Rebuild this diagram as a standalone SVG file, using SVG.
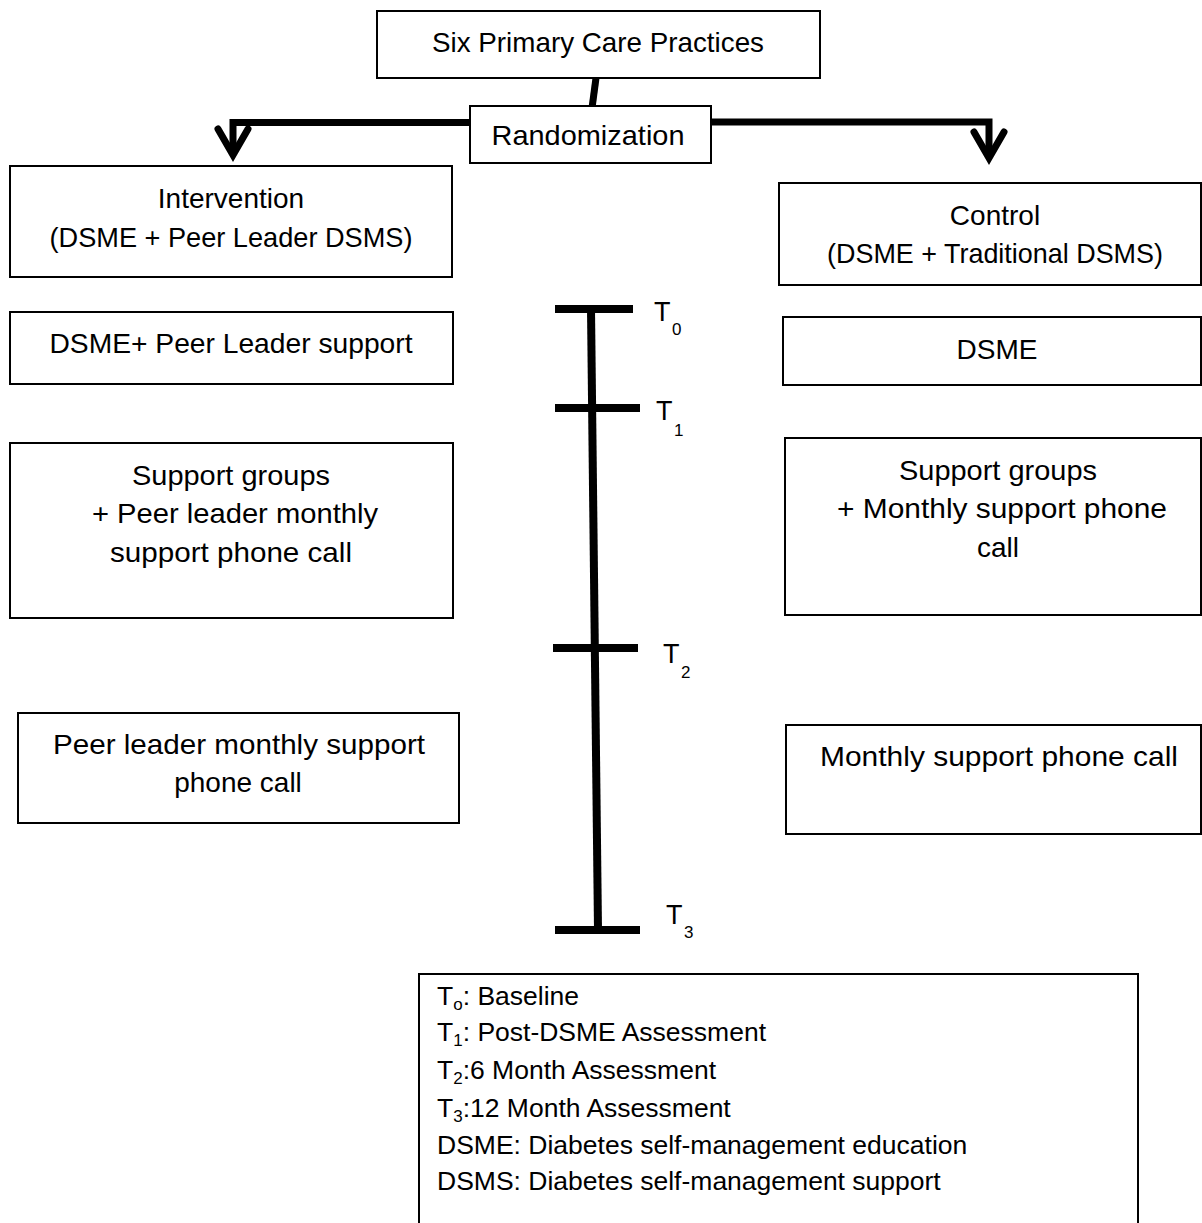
<svg xmlns="http://www.w3.org/2000/svg" width="1202" height="1223" viewBox="0 0 1202 1223">
<style>
.box{fill:#fff;stroke:#000;stroke-width:2}
.t{font-family:"Liberation Sans",Arial,sans-serif;font-size:28px;fill:#000;text-anchor:middle}
.lg{font-family:"Liberation Sans",Arial,sans-serif;font-size:26.5px;fill:#000}
.tl{font-family:"Liberation Sans",Arial,sans-serif;font-size:27px;fill:#000}
.sub{font-size:17px}
.conn{fill:none;stroke:#000;stroke-width:7}
.bar{fill:none;stroke:#000;stroke-width:8}
</style>
<defs>
<marker id="chev" markerUnits="userSpaceOnUse" viewBox="-40 -25 50 50" markerWidth="50" markerHeight="50" refX="0" refY="0" orient="auto">
<path d="M-26,-15 L0,0 L-26,15" fill="none" stroke="#000" stroke-width="7" stroke-linejoin="miter" stroke-linecap="round"/>
</marker>
</defs>
<rect width="1202" height="1223" fill="#fff"/>

<g id="connectors">
<path class="conn" d="M596,78 L592,108"/>
<path class="conn" d="M472,122.5 H233 V155" marker-end="url(#chev)"/>
<path class="conn" d="M709,122 H989 V158" marker-end="url(#chev)"/>
</g>

<g id="timeline">
<path class="bar" d="M591,309 L598,930"/>
<path class="bar" d="M555,309 H633"/>
<path class="bar" d="M555,408 H640"/>
<path class="bar" d="M553,648 H638"/>
<path class="bar" d="M555,930 H640"/>
<text class="tl" x="654" y="321">T</text>
<text class="tl sub" x="672" y="335">0</text>
<text class="tl" x="656" y="420">T</text>
<text class="tl sub" x="674" y="436">1</text>
<text class="tl" x="663" y="663">T</text>
<text class="tl sub" x="681" y="678">2</text>
<text class="tl" x="666" y="924">T</text>
<text class="tl sub" x="684" y="938">3</text>
</g>

<g id="practices">
<rect class="box" x="377" y="11" width="443" height="67"/>
<text class="t" x="598" y="52" textLength="332" lengthAdjust="spacingAndGlyphs">Six Primary Care Practices</text>
</g>

<g id="randomization">
<rect class="box" x="470" y="106" width="241" height="57"/>
<text class="t" x="588" y="145" textLength="193" lengthAdjust="spacingAndGlyphs">Randomization</text>
</g>

<g id="intervention">
<rect class="box" x="10" y="166" width="442" height="111"/>
<text class="t" x="231" y="208">Intervention</text>
<text class="t" x="231" y="247" textLength="363" lengthAdjust="spacingAndGlyphs">(DSME + Peer Leader DSMS)</text>
</g>

<g id="control">
<rect class="box" x="779" y="183" width="422" height="102"/>
<text class="t" x="995" y="225">Control</text>
<text class="t" x="995" y="263" textLength="336" lengthAdjust="spacingAndGlyphs">(DSME + Traditional DSMS)</text>
</g>

<g id="dsme-peer">
<rect class="box" x="10" y="312" width="443" height="72"/>
<text class="t" x="231" y="353" textLength="363" lengthAdjust="spacingAndGlyphs">DSME+ Peer Leader support</text>
</g>

<g id="dsme">
<rect class="box" x="783" y="317" width="418" height="68"/>
<text class="t" x="997" y="359">DSME</text>
</g>

<g id="support-left">
<rect class="box" x="10" y="443" width="443" height="175"/>
<text class="t" x="231" y="485" textLength="198" lengthAdjust="spacingAndGlyphs">Support groups</text>
<text class="t" x="235" y="523" textLength="286" lengthAdjust="spacingAndGlyphs">+ Peer leader monthly</text>
<text class="t" x="231" y="562" textLength="242" lengthAdjust="spacingAndGlyphs">support phone call</text>
</g>

<g id="support-right">
<rect class="box" x="785" y="438" width="416" height="177"/>
<text class="t" x="998" y="480" textLength="198" lengthAdjust="spacingAndGlyphs">Support groups</text>
<text class="t" x="1002" y="518" textLength="330" lengthAdjust="spacingAndGlyphs">+ Monthly support phone</text>
<text class="t" x="998" y="557">call</text>
</g>

<g id="peer-phone">
<rect class="box" x="18" y="713" width="441" height="110"/>
<text class="t" x="239" y="754" textLength="372" lengthAdjust="spacingAndGlyphs">Peer leader monthly support</text>
<text class="t" x="238" y="792">phone call</text>
</g>

<g id="monthly-phone">
<rect class="box" x="786" y="725" width="415" height="109"/>
<text class="t" x="999" y="766" textLength="358" lengthAdjust="spacingAndGlyphs">Monthly support phone call</text>
</g>

<g id="legend">
<rect class="box" x="419" y="974" width="719" height="270"/>
<text class="lg" x="437" y="1005">T<tspan class="sub" dy="5">o</tspan><tspan dy="-5">: Baseline</tspan></text>
<text class="lg" x="437" y="1041">T<tspan class="sub" dy="5">1</tspan><tspan dy="-5">: Post-DSME Assessment</tspan></text>
<text class="lg" x="437" y="1079">T<tspan class="sub" dy="5">2</tspan><tspan dy="-5">:6 Month Assessment</tspan></text>
<text class="lg" x="437" y="1117">T<tspan class="sub" dy="5">3</tspan><tspan dy="-5">:12 Month Assessment</tspan></text>
<text class="lg" x="437" y="1154">DSME: Diabetes self-management education</text>
<text class="lg" x="437" y="1190">DSMS: Diabetes self-management support</text>
</g>
</svg>
